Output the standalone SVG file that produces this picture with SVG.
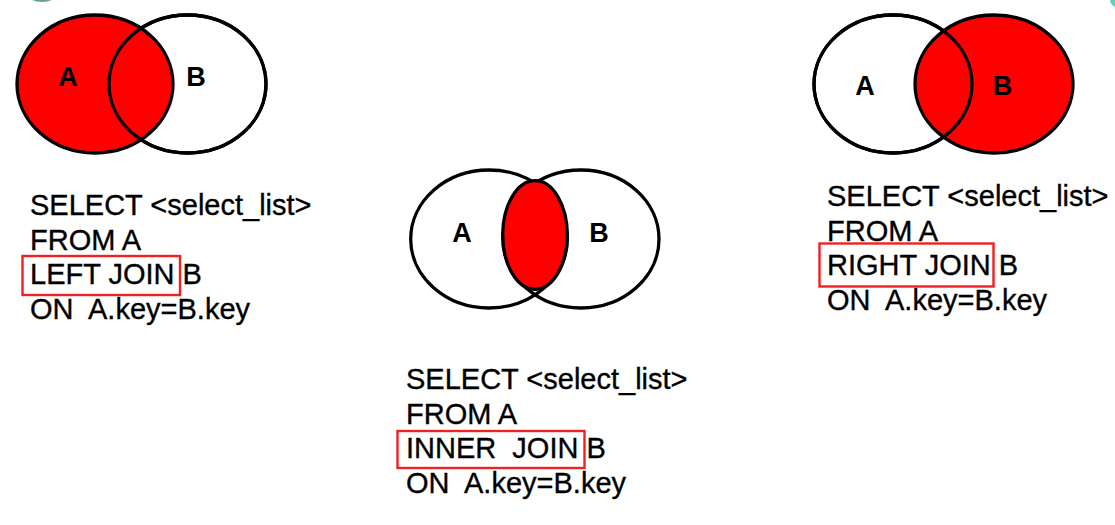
<svg xmlns="http://www.w3.org/2000/svg" width="1115" height="525" viewBox="0 0 1115 525">
  <style>
    .ring { stroke: #000; stroke-width: 3.3; }
    .red { fill: #ff0000; }
    .white { fill: #ffffff; }
    .none { fill: none; }
    .lbl { font-family: "Liberation Sans", Arial, sans-serif; font-weight: bold; font-size: 27px; fill: #000; text-anchor: middle; }
    .sql { font-family: "Liberation Sans", Arial, sans-serif; font-size: 29px; fill: #000; stroke: #000; stroke-width: 0.35; white-space: pre; }
    .box { fill: none; stroke: #ee2222; stroke-width: 2.4; }
  </style>
  <rect width="1115" height="525" fill="#ffffff"/>
  <ellipse cx="42" cy="-5" rx="14" ry="7" fill="#3f8a7c" opacity="0.8"/>
  <ellipse cx="1120" cy="0" rx="10" ry="8" fill="#3cc2aa" opacity="0.8"/>

  <g id="left-join">
    <ellipse class="ring white" cx="187.5" cy="84" rx="78.5" ry="69"/>
    <ellipse class="ring red" cx="95" cy="84" rx="78" ry="69"/>
    <ellipse class="ring none" cx="187.5" cy="84" rx="78.5" ry="69"/>
    <text class="lbl" x="68" y="86">A</text>
    <text class="lbl" x="196" y="86">B</text>
    <text class="sql" x="30" y="215">SELECT &lt;select_list&gt;</text>
    <text class="sql" x="30" y="249.5">FROM A</text>
    <text class="sql" x="30" y="284">LEFT JOIN B</text>
    <text class="sql" x="30" y="318.5">ON  A.key=B.key</text>
    <rect class="box" x="22.5" y="256" width="157.5" height="39"/>
  </g>

  <g id="inner-join">
    <ellipse class="ring white" cx="489" cy="239" rx="78.3" ry="69"/>
    <ellipse class="ring none" cx="581" cy="239" rx="78" ry="69"/>
    <ellipse class="ring red" cx="535" cy="235" rx="32.3" ry="54.3"/>
    <text class="lbl" x="462" y="242">A</text>
    <text class="lbl" x="599" y="242">B</text>
    <text class="sql" x="406" y="389">SELECT &lt;select_list&gt;</text>
    <text class="sql" x="406" y="423.5">FROM A</text>
    <text class="sql" x="406" y="458">INNER  JOIN B</text>
    <text class="sql" x="406" y="492.5">ON  A.key=B.key</text>
    <rect class="box" x="397.5" y="431" width="187" height="37"/>
  </g>

  <g id="right-join">
    <ellipse class="ring white" cx="893" cy="84" rx="79" ry="69"/>
    <ellipse class="ring red" cx="994" cy="84" rx="79" ry="69"/>
    <ellipse class="ring none" cx="893" cy="84" rx="79" ry="69"/>
    <text class="lbl" x="865" y="95">A</text>
    <text class="lbl" x="1002.5" y="95">B</text>
    <text class="sql" x="827" y="205.5">SELECT &lt;select_list&gt;</text>
    <text class="sql" x="827" y="240.5">FROM A</text>
    <text class="sql" x="827" y="275">RIGHT JOIN B</text>
    <text class="sql" x="827" y="309.5">ON  A.key=B.key</text>
    <rect class="box" x="819.5" y="243.5" width="174" height="43"/>
  </g>

  <g id="connectors"/>
</svg>
